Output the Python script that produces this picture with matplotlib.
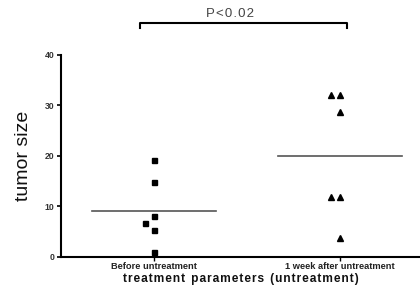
import numpy as np
import matplotlib.pyplot as plt

plt.rcParams['font.family'] = ['Liberation Sans', 'DejaVu Sans']

groups = ['Before untreatment', '1 week after untreatment']
before_vals = [19.1, 14.8, 8.0, 6.6, 5.2, 1.0]
before_jitter = [0, 0, 0, -0.05, 0, 0]
after_vals = [32.0, 32.0, 28.6, 11.9, 11.9, 3.8]
after_jitter = [-0.05, 0, 0, -0.05, 0, 0]
p_text = 'P<0.02'

fig = plt.figure(figsize=(4.2, 2.89), dpi=100)
ax = fig.add_axes([0.1452, 0.1118, 0.8548, 0.6979])

xs1 = 1 + np.array(before_jitter)
xs2 = 2 + np.array(after_jitter)
ax.plot(xs1, before_vals, 's', color='black', ms=3.6, ls='none')
ax.plot(xs2, after_vals, '^', color='black', ms=4.0, ls='none')

# mean lines
for pos, vals in [(1, before_vals), (2, after_vals)]:
    m = np.mean(vals)
    ax.plot([pos - 0.335, pos + 0.335], [m, m], color='#555555', lw=1.2)

ax.set_xlim(0.5, 2.43)
ax.set_ylim(0, 40)
ax.set_yticks([0, 10, 20, 30, 40])
ax.set_xticks([1, 2])
ax.set_xticklabels(groups, fontsize=6.7, fontweight='bold', color='#222222')
for lbl in ax.get_yticklabels():
    lbl.set_fontsize(6.2)
    lbl.set_fontweight('bold')
    lbl.set_color('#333333')
ax.tick_params(axis='y', length=3, width=1.2, pad=1.5)
ax.tick_params(axis='x', length=3, width=1.0, pad=1)
for s in ['top', 'right']:
    ax.spines[s].set_visible(False)
for s in ['left', 'bottom']:
    ax.spines[s].set_linewidth(1.5)

ax.set_ylabel('tumor size', fontsize=14, labelpad=9, color='#111111')
xlab = 'treatment parameters (untreatment)'
ax.set_xlabel('\u200a'.join(xlab).replace('\u200a \u200a', '\u2002'),
              fontsize=8.6, fontweight='bold', labelpad=1.5, color='#111111')

# significance bracket
x0, x1 = 0.925, 2.04
ax.plot([x0, x0, x1, x1], [45.4, 46.4, 46.4, 45.4], color='black', lw=1.5, clip_on=False)
ax.text(1.41, 47.0, '\u200a'.join(p_text), ha='center', va='bottom',
        fontsize=9.5, color='#444444')

plt.savefig('out.png', dpi=100)
plt.close()
